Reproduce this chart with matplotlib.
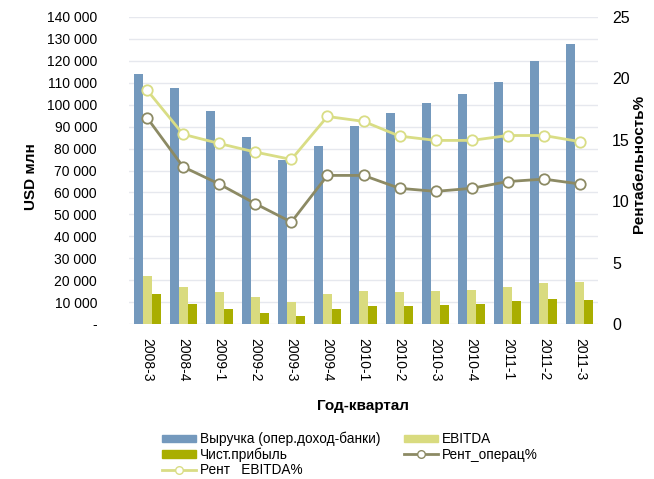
import matplotlib
matplotlib.use("Agg")
import matplotlib.pyplot as plt
import numpy as np
from matplotlib.patches import Patch
from matplotlib.lines import Line2D

plt.rcParams['font.family'] = ['Liberation Sans', 'DejaVu Sans']

quarters = ["2008-3", "2008-4", "2009-1", "2009-2", "2009-3", "2009-4", "2010-1",
            "2010-2", "2010-3", "2010-4", "2011-1", "2011-2", "2011-3"]
revenue = [114000, 107600, 97100, 85300, 74800, 81200, 90300,
           96200, 100800, 104900, 110400, 119900, 127700]
ebitda = [21900, 16900, 14600, 12300, 10000, 13700, 15000,
          14600, 15000, 15500, 16900, 18700, 19200]
net_profit = [13700, 9100, 6800, 5000, 3600, 6800, 8200,
              8200, 8700, 9100, 10500, 11400, 10900]
rent_oper = [16.8, 12.8, 11.4, 9.8, 8.3, 12.1, 12.1,
             11.05, 10.8, 11.05, 11.6, 11.8, 11.4]
rent_ebitda = [19.05, 15.45, 14.7, 14.0, 13.4, 16.9, 16.5,
               15.3, 14.95, 14.95, 15.35, 15.35, 14.85]

c_rev = "#7499BD"
c_ebitda = "#D9DB7F"
c_net = "#A9AE00"
c_oper = "#8C8A64"
c_ebitda_line = "#D9DD85"

fig = plt.figure(figsize=(6.54, 4.79), dpi=100)
ax = fig.add_axes([129/654, 1-324/479, (598-129)/654, (324-17)/479])
ax2 = ax.twinx()

x = np.arange(len(quarters))
w = 0.25
ax.bar(x - w, revenue, w, color=c_rev, zorder=2)
ax.bar(x, ebitda, w, color=c_ebitda, zorder=2)
ax.bar(x + w, net_profit, w, color=c_net, zorder=2)

ax.set_ylim(0, 140000)
ax.set_xlim(-0.5, len(quarters) - 0.5)
yt = np.arange(0, 140001, 10000)
ax.set_yticks(yt)
ax.set_yticklabels(["-" if v == 0 else f"{v:,}".replace(",", " ") for v in yt], fontsize=10)
ax.set_xticks(x)
ax.set_xticklabels(quarters, rotation=-90, fontsize=10)
ax.grid(axis='y', color="#E6E8EE", linewidth=1, zorder=0)
ax.set_axisbelow(True)
ax.tick_params(axis='both', length=0)
ax.tick_params(axis='x', pad=10)
ax.tick_params(axis='y', pad=23)
for s in ax.spines.values():
    s.set_visible(False)
for s in ax2.spines.values():
    s.set_visible(False)

ax2.plot(x, rent_oper, color=c_oper, lw=2.0, marker='o', ms=7.5, mfc='white', mec=c_oper, mew=1.3, zorder=3)
ax2.plot(x, rent_ebitda, color=c_ebitda_line, lw=2.0, marker='o', ms=7.5, mfc='white', mec=c_ebitda_line, mew=1.3, zorder=3)
ax2.set_ylim(0, 25)
ax2.set_yticks(np.arange(0, 26, 5))
ax2.tick_params(axis='y', length=0, labelsize=11.5, pad=10)

ax.set_ylabel("USD млн", fontsize=11, fontweight='bold')
ax.yaxis.set_label_coords(-0.195, 0.48)
ax2.set_ylabel("Рентабельность%", fontsize=11, fontweight='bold')
ax2.yaxis.set_label_coords(1.072, 0.52)
ax.set_xlabel("Год-квартал", fontsize=11, fontweight='bold')
ax.xaxis.set_label_coords(0.5, -0.245)

handles = [
    Patch(color=c_rev, label="Выручка (опер.доход-банки)"),
    Patch(color=c_net, label="Чист.прибыль"),
    Line2D([], [], color=c_ebitda_line, lw=2.0, marker='o', ms=5.5, mfc='white', mec=c_ebitda_line, label="Рент   EBITDA%"),
    Patch(color=c_ebitda, label="EBITDA"),
    Line2D([], [], color=c_oper, lw=2.0, marker='o', ms=5.5, mfc='white', mec=c_oper, label="Рент_операц%"),
]
fig.legend(handles=handles, loc='upper left', bbox_to_anchor=(162/654, 1-432/479), ncol=2,
           frameon=False, fontsize=9.8, borderpad=0, borderaxespad=0, handlelength=2.5,
           handleheight=0.5, handletextpad=0.3, labelspacing=0.08, columnspacing=1.7)

fig.savefig("out.png", dpi=100)
